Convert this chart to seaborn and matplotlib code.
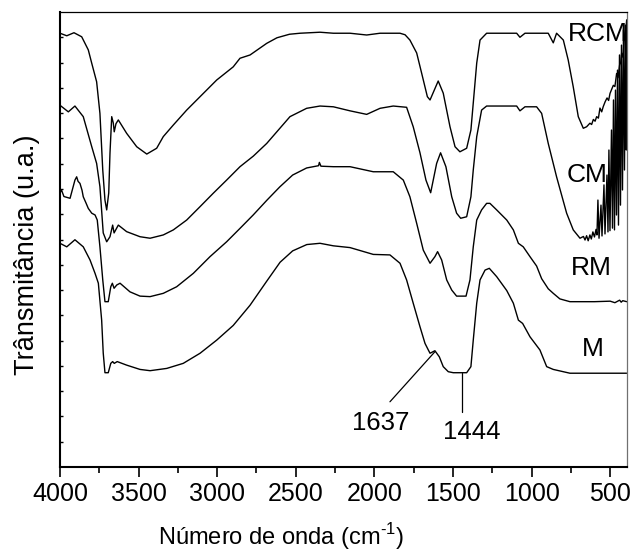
import numpy as np
import pandas as pd
import matplotlib
matplotlib.use("Agg")
import matplotlib.pyplot as plt
import seaborn as sns

# FTIR spectra (wavenumber in cm^-1, transmittance in arbitrary units, curves offset)
wn_rcm = [4000, 3957, 3911, 3862, 3820, 3798, 3767, 3746, 3728, 3714, 3703, 3690, 3682,
          3671, 3661, 3655, 3644, 3629, 3576, 3512, 3448, 3385, 3343, 3279, 3194, 3109,
          3003, 2898, 2855, 2791, 2685, 2620, 2540, 2473, 2346, 2261, 2155, 2049, 1964,
          1837, 1805, 1774, 1731, 1699, 1663, 1646, 1594, 1562, 1519, 1487, 1456, 1413,
          1386, 1371, 1349, 1328, 1286, 1095, 1074, 1042, 947, 894, 862, 841, 798, 767,
          735, 703, 671, 650, 629, 618, 607, 596, 586, 575, 565, 554, 544, 532, 520, 510,
          501, 490, 480, 470, 459, 450, 440, 433, 427, 418, 412, 406, 400, 395]
t_rcm = [17.16, 17.06, 17.18, 17.02, 16.50, 15.97, 15.24, 13.99, 11.75, 10.56, 10.17, 10.84,
         12.42, 13.86, 13.61, 13.26, 13.58, 13.73, 13.20, 12.67, 12.38, 12.61, 13.07, 13.53,
         14.12, 14.65, 15.31, 15.83, 16.17, 16.30, 16.76, 16.98, 17.12, 17.16, 17.20, 17.16,
         17.16, 17.09, 17.16, 17.16, 17.10, 16.89, 16.38, 15.57, 14.65, 14.52, 15.27, 14.79,
         13.46, 12.67, 12.47, 12.61, 13.33, 14.40, 15.98, 16.89, 17.16, 17.16, 17.00, 17.16,
         17.16, 17.16, 16.78, 17.16, 16.89, 16.10, 15.04, 13.86, 13.40, 13.46, 13.60, 13.55,
         13.75, 13.68, 13.86, 13.80, 14.20, 14.05, 14.26, 14.45, 14.60, 14.50, 14.78, 14.95,
         15.10, 15.05, 15.57, 15.40, 15.90, 16.00, 16.38, 16.20, 16.80, 17.16, 17.30, 17.68]

wn_cm = [4000, 3947, 3905, 3852, 3798, 3767, 3746, 3725, 3703, 3682, 3665, 3656, 3629,
         3576, 3491, 3427, 3343, 3279, 3194, 3109, 3025, 2940, 2855, 2770, 2685, 2537,
         2431, 2346, 2261, 2155, 2049, 1964, 1880, 1795, 1753, 1710, 1672, 1642, 1604,
         1579, 1545, 1508, 1477, 1451, 1413, 1386, 1371, 1349, 1318, 1286, 1095, 1074,
         1042, 968, 936, 894, 841, 777, 735, 692, 670, 660, 650, 640, 629, 620, 610, 600,
         590, 584, 578, 571, 558.5, 552, 539.5, 533, 520.5, 514, 508, 501.3, 491.7, 485.4,
         479, 472.6, 466.3, 459.9, 453.5, 447.2, 440.8, 434.5, 428.1, 421.7, 415.4, 409,
         402.7, 397.6, 395]
t_cm = [14.31, 14.05, 14.28, 13.86, 12.67, 12.01, 11.09, 9.26, 8.91, 9.11, 9.57, 9.26, 9.57,
        9.31, 9.11, 9.05, 9.18, 9.38, 9.77, 10.30, 10.83, 11.35, 11.88, 12.30, 12.80, 13.86,
        14.19, 14.28, 14.25, 14.09, 13.95, 14.19, 14.28, 14.23, 13.46, 12.43, 11.35, 10.85,
        12.01, 12.43, 11.88, 10.69, 10.04, 9.84, 9.90, 10.69, 11.75, 13.07, 14.12, 14.28,
        14.28, 14.09, 14.25, 14.25, 13.99, 12.80, 11.48, 10.04, 9.38, 9.05, 9.12, 8.98, 9.15,
        8.95, 9.18, 9.02, 9.30, 9.10, 9.40, 9.18, 10.56, 9.05, 10.36, 9.14, 11.16, 9.22,
        11.55, 9.30, 12.54, 9.35, 13.33, 9.45, 14.52, 9.38, 14.91, 9.97, 15.70, 9.57, 16.30,
        10.36, 16.69, 10.96, 17.29, 11.75, 17.48, 12.54, 17.68]

wn_rm = [4000, 3990, 3975, 3936, 3905, 3894, 3885, 3873, 3860, 3852, 3835, 3820, 3798,
         3777, 3763, 3746, 3728, 3714, 3693, 3677, 3667, 3656, 3639, 3618, 3555, 3491,
         3427, 3343, 3258, 3152, 3046, 2940, 2855, 2771, 2683, 2602, 2520, 2431, 2355,
         2350, 2340, 2261, 2155, 2007, 1880, 1816, 1774, 1731, 1689, 1646, 1615, 1598,
         1572, 1540, 1508, 1477, 1417, 1392, 1371, 1349, 1318, 1286, 1265, 1222, 1158,
         1116, 1084, 1053, 1010, 968, 936, 894, 862, 820, 756, 600, 500, 470, 440, 430,
         420, 395]
t_rm = [10.85, 10.95, 10.70, 10.63, 11.35, 11.48, 11.30, 11.22, 10.95, 10.69, 10.45, 10.23,
        10.04, 9.97, 9.77, 8.71, 7.40, 6.54, 6.54, 7.13, 7.27, 7.07, 7.20, 7.27, 6.93, 6.76,
        6.74, 6.87, 7.13, 7.66, 8.32, 8.91, 9.44, 9.97, 10.56, 11.08, 11.55, 11.83, 11.92,
        12.05, 11.90, 11.88, 11.88, 11.68, 11.68, 11.35, 10.69, 9.64, 8.58, 8.06, 8.32, 8.52,
        8.19, 7.40, 7.00, 6.76, 6.76, 7.40, 8.71, 9.77, 10.17, 10.43, 10.43, 10.17, 9.77,
        9.38, 8.85, 8.71, 8.32, 7.95, 7.45, 7.05, 6.87, 6.65, 6.54, 6.54, 6.56, 6.50, 6.60,
        6.52, 6.58, 6.54]

wn_m = [4000, 3957, 3905, 3852, 3809, 3777, 3756, 3735, 3725, 3714, 3693, 3677, 3665, 3655,
        3636, 3576, 3491, 3427, 3321, 3216, 3109, 3003, 2898, 2791, 2685, 2600, 2520, 2430,
        2346, 2261, 2155, 2007, 1901, 1837, 1795, 1753, 1710, 1678, 1657, 1646, 1615, 1587,
        1562, 1530, 1498, 1413, 1386, 1371, 1349, 1328, 1296, 1269, 1222, 1158, 1116, 1084,
        1057, 1010, 947, 904, 862, 756, 395]
t_m = [8.85, 8.71, 8.99, 8.71, 8.19, 7.66, 7.27, 5.81, 4.51, 3.73, 3.73, 4.10, 4.17, 4.10,
       4.17, 4.03, 3.86, 3.81, 3.90, 4.10, 4.50, 5.02, 5.60, 6.40, 7.35, 8.10, 8.55, 8.80,
       8.85, 8.75, 8.68, 8.41, 8.39, 8.06, 7.40, 6.48, 5.55, 4.89, 4.63, 4.50, 4.60, 4.36,
       3.97, 3.77, 3.73, 3.73, 3.97, 5.02, 6.48, 7.40, 7.79, 7.86, 7.53, 6.98, 6.48, 5.81,
       5.68, 5.15, 4.63, 3.97, 3.86, 3.71, 3.71]

samples = ["RCM", "CM", "RM", "M"]
label_pos = {"RCM": (581, 17.13), "CM": (650, 11.55), "RM": (618, 7.87), "M": (610, 4.67)}

frames = []
for name, wn, t in [("RCM", wn_rcm, t_rcm), ("CM", wn_cm, t_cm),
                    ("RM", wn_rm, t_rm), ("M", wn_m, t_m)]:
    frames.append(pd.DataFrame({"wn": wn, "T": t, "amostra": name}))
df = pd.concat(frames, ignore_index=True)

sns.set_style("ticks")
plt.rcParams["font.family"] = ["Liberation Sans", "DejaVu Sans"]
plt.rcParams["mathtext.fontset"] = "custom"
plt.rcParams["mathtext.rm"] = "Liberation Sans"
for key in ["text.color", "axes.labelcolor", "xtick.color", "ytick.color"]:
    plt.rcParams[key] = "black"

fig = plt.figure(figsize=(6.37, 5.58), dpi=100)
ax = fig.add_axes([60 / 637, 1 - 467 / 558, 567 / 637, 455 / 558])

sns.lineplot(data=df, x="wn", y="T", hue="amostra", units="amostra", estimator=None,
             palette={s: "black" for s in samples}, linewidth=1.0, legend=False,
             sort=False, ax=ax)

ax.set_xlim(4000, 393)
ax.set_ylim(0, 18)

ax.set_xticks([4000, 3500, 3000, 2500, 2000, 1500, 1000, 500])
ax.set_xticks(np.arange(3750, 393, -500), minor=True)
ax.set_yticks(np.arange(1, 18))
ax.set_yticklabels([])
ax.tick_params(axis="x", which="major", direction="out", length=7, width=1.2,
               labelsize=18, pad=4)
ax.tick_params(axis="x", which="minor", direction="out", length=4.5, width=1.2)
ax.tick_params(axis="y", which="major", direction="in", length=2.5, width=1.0, left=True)

for side in ["left", "bottom"]:
    ax.spines[side].set_linewidth(1.5)
    ax.spines[side].set_color("black")
ax.spines["top"].set_linewidth(0.9)
ax.spines["top"].set_color("black")
ax.spines["right"].set_linewidth(0.9)
ax.spines["right"].set_color("#707070")
ax.spines["top"].set_visible(True)
ax.spines["right"].set_visible(True)

ax.set_xlabel("Número de onda (cm$^{\\mathrm{\u2010}1}$)", fontsize=17)
ax.xaxis.set_label_coords(0.39, -0.118)
ax.set_ylabel("Trânsmitância (u.a.)", fontsize=19.5)
ax.yaxis.set_label_coords(-0.035, 0.466)

for name in samples:
    x, y = label_pos[name]
    ax.text(x, y, name, fontsize=19, ha="center", va="center")

# band assignments on the M spectrum
ax.plot([1615, 1901], [4.56, 2.58], color="black", linewidth=0.9)
ax.plot([1441, 1441], [3.71, 2.19], color="black", linewidth=0.9)
ax.text(1961, 1.73, "1637", fontsize=18.5, ha="center", va="center")
ax.text(1381, 1.40, "1444", fontsize=18.5, ha="center", va="center")

fig.savefig("out.png", dpi=100)
